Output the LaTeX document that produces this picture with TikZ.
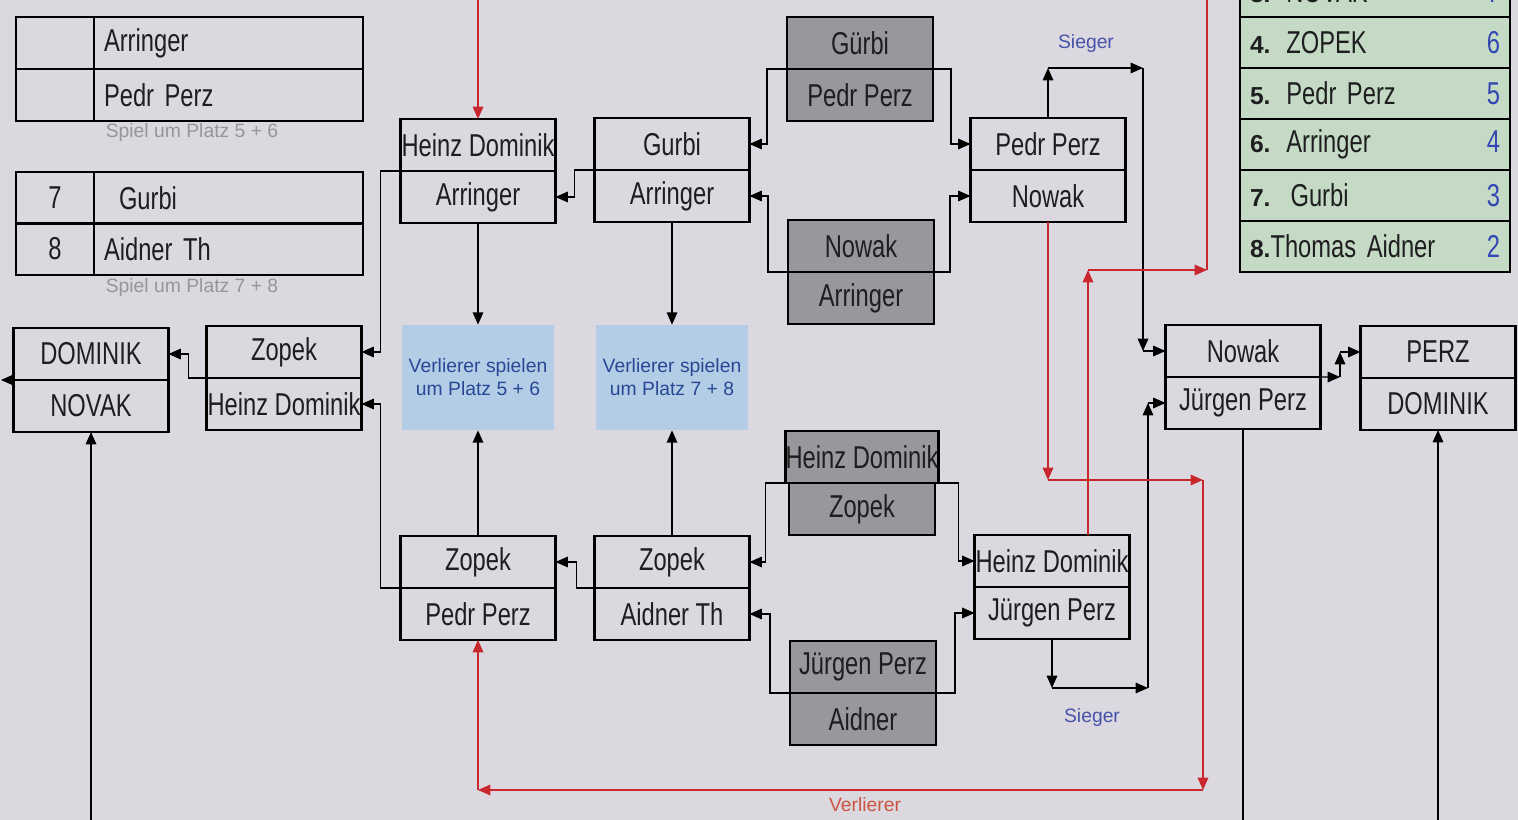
\documentclass[tikz,border=0pt]{standalone}
\usepackage{fontspec}
\setmainfont{Liberation Sans}
\newfontfamily\handfont[FakeStretch=0.75]{Liberation Sans}
\usetikzlibrary{arrows.meta}

\definecolor{paper}{RGB}{219,217,223}
\definecolor{boxgray}{RGB}{152,151,156}
\definecolor{loserfill}{RGB}{180,205,230}
\definecolor{losertext}{RGB}{40,72,150}
\definecolor{winblue}{RGB}{72,82,170}
\definecolor{rankgreen}{RGB}{197,218,197}
\definecolor{ptblue}{RGB}{50,70,180}
\definecolor{linered}{RGB}{200,40,45}
\definecolor{labelred}{RGB}{205,85,65}
\definecolor{labelgray}{RGB}{150,150,152}
\definecolor{ink}{RGB}{30,30,32}

\newcommand\ranknum[1]{{\normalfont\bfseries\fontsize{14}{16}\selectfont #1}}

\begin{document}
\begin{tikzpicture}[
  x=0.02cm, y=-0.02cm,
  cell/.style={draw, line width=1.6pt, minimum width=3.1cm, minimum height=1.04cm, inner sep=0pt, outer sep=0pt, text=ink, font=\handfont\fontsize{18}{20}\selectfont},
  shaded/.style={cell, fill=boxgray, minimum width=2.92cm},
  numcell/.style={cell, minimum width=1.56cm},
  namecell/.style={cell, minimum width=5.38cm, text width=4.98cm, inner xsep=0.2cm, align=left},
  rankrow/.style={draw, line width=1.4pt, fill=rankgreen, minimum height=1.02cm, text width=5.0cm, inner xsep=0.2cm, inner ysep=0pt, outer sep=0pt, align=left, text=ink, font=\handfont\fontsize{18}{20}\selectfont},
  loser/.style={fill=loserfill, minimum width=3.06cm, minimum height=2.1cm, align=center, text=losertext, font=\fontsize{11}{13}\selectfont},
  note/.style={font=\fontsize{11}{13}\selectfont},
  wire/.style={line width=0.8pt},
  arr/.style={wire, -{Triangle[length=7pt,width=6pt]}},
  redarr/.style={arr, draw=linered, fill=linered},
  redwire/.style={wire, draw=linered}
]
\path[use as bounding box, fill=paper] (0,0) rectangle (1518,820);
\clip (0,0) rectangle (1518,820);

% games for places 5-8
\node[numcell] (p5num) at (55,43) {};
\node[namecell] (p5name) at (228.5,43) {Arringer};
\node[numcell] (p6num) at (55,95) {};
\node[namecell] (p6name) at (228.5,95) {Pedr Perz};
\node[note, text=labelgray] (p56lbl) at (192,133) {Spiel um Platz 5 + 6};
\node[numcell] (p7num) at (55,198) {7};
\node[namecell] (p7name) at (228.5,198) {\hspace{0.3cm}Gurbi};
\node[numcell] (p8num) at (55,249) {8};
\node[namecell] (p8name) at (228.5,249) {Aidner Th};
\node[note, text=labelgray] (p78lbl) at (192,288) {Spiel um Platz 7 + 8};

% first round (shaded)
\node[shaded] (q1t) at (860,43) {Gürbi};
\node[shaded] (q1b) at (860,95) {Pedr Perz};
\node[shaded] (q2t) at (861,246) {Nowak};
\node[shaded] (q2b) at (861,298) {Arringer};
\node[shaded] (q3t) at (862,457) {Heinz Dominik};
\node[shaded] (q3b) at (862,509) {Zopek};
\node[shaded] (q4t) at (863,667) {Jürgen Perz};
\node[shaded] (q4b) at (863,719) {Aidner};

% semi finals
\node[cell] (s1t) at (1048,144) {Pedr Perz};
\node[cell] (s1b) at (1048,196) {Nowak};
\node[cell] (s2t) at (1052,561) {Heinz Dominik};
\node[cell] (s2b) at (1052,613) {Jürgen Perz};

% loser rounds
\node[cell] (c1t) at (672,144) {Gurbi};
\node[cell] (c1b) at (672,196) {Arringer};
\node[cell] (c2t) at (672,562) {Zopek};
\node[cell] (c2b) at (672,614) {Aidner Th};
\node[cell] (c3t) at (478,145) {Heinz Dominik};
\node[cell] (c3b) at (478,197) {Arringer};
\node[cell] (c4t) at (478,562) {Zopek};
\node[cell] (c4b) at (478,614) {Pedr Perz};
\node[cell] (c5t) at (284,352) {Zopek};
\node[cell] (c5b) at (284,404) {Heinz Dominik};
\node[cell] (c6t) at (91,354) {DOMINIK};
\node[cell] (c6b) at (91,406) {NOVAK};

\node[loser] (loser56) at (478,377.5) {Verlierer spielen\\um Platz 5 + 6};
\node[loser] (loser78) at (672,377.5) {Verlierer spielen\\um Platz 7 + 8};

% final
\node[cell] (f1t) at (1243,351) {Nowak};
\node[cell] (f1b) at (1243,403) {Jürgen Perz};
\node[cell] (f2t) at (1438,352) {PERZ};
\node[cell] (f2b) at (1438,404) {DOMINIK};

% ranking
\node[rankrow] (rank3) at (1375,-8.5) {\ranknum{3.} NOVAK\hfill{\color{ptblue}7}};
\node[rankrow] (rank4) at (1375,42.5) {\ranknum{4.} ZOPEK\hfill{\color{ptblue}6}};
\node[rankrow] (rank5) at (1375,93.5) {\ranknum{5.} Pedr Perz\hfill{\color{ptblue}5}};
\node[rankrow] (rank6) at (1375,144.5) {\ranknum{6.} Arringer\hfill{\color{ptblue}4}};
\node[rankrow] (rank7) at (1375,195.5) {\ranknum{7.}\hspace{0.4cm}Gurbi\hfill{\color{ptblue}3}};
\node[rankrow] (rank8) at (1375,246.5) {\ranknum{8.}Thomas Aidner\hfill{\color{ptblue}2}};

\node[note, text=winblue] (sieg1) at (1086,44) {Sieger};
\node[note, text=winblue] (sieg2) at (1092,718) {Sieger};
\node[note, text=labelred] (verl) at (865,805) {Verlierer};

\coordinate (w1) at (1048,68);
\coordinate (w1r) at (1143,68);
\coordinate (w1d) at (1143,351);
\coordinate (w2) at (1052,688);
\coordinate (w2r) at (1148,688);
\coordinate (w2u) at (1148,403);
\coordinate (v1) at (1048,480);
\coordinate (v1r) at (1203,480);
\coordinate (v1d) at (1203,790);
\coordinate (v1l) at (478,790);
\coordinate (v2) at (1088,270);
\coordinate (v2r) at (1207,270);
\coordinate (v2top) at (1207,0);
\coordinate (v3top) at (478,0);
\coordinate (fj) at (1340,377);
\coordinate (fj2) at (1340,352);
\coordinate (c6out) at (1,380);
\coordinate (bot1) at (91,820);
\coordinate (bot2) at (1243,820);
\coordinate (bot3) at (1438,820);

% winners move on
\draw[arr] (q1t.south west) -- ++(-20,0) |- (c1t.east);
\draw[arr] (q2t.south west) -- ++(-20,0) |- (c1b.east);
\draw[arr] (q1t.south east) -- ++(18,0) |- (s1t.west);
\draw[arr] (q2t.south east) -- ++(16,0) |- (s1b.west);
\draw[arr] (q3t.south west) -- ++(-20,0) |- (c2t.east);
\draw[arr] (q4t.south west) -- ++(-20,0) |- (c2b.east);
\draw[arr] (q3t.south east) -- ++(20,0) |- (s2t.west);
\draw[arr] (q4t.south east) -- ++(19,0) |- (s2b.west);
\draw[arr] (c1t.south west) -- ++(-20,0) |- (c3b.east);
\draw[arr] (c2t.south west) -- ++(-18,0) |- (c4t.east);
\draw[arr] (c3t.south west) -- ++(-20,0) |- (c5t.east);
\draw[arr] (c4t.south west) -- ++(-20,0) |- (c5b.east);
\draw[arr] (c5t.south west) -- ++(-18,0) |- (c6t.east);
\draw[arr] (c6t.south west) -- (c6out);
\draw[arr] (c3b.south) -- (loser56.north);
\draw[arr] (c4t.north) -- (loser56.south);
\draw[arr] (c1b.south) -- (loser78.north);
\draw[arr] (c2t.north) -- (loser78.south);

% Sieger
\draw[arr] (s1t.north) -- (w1);
\draw[arr] (w1) -- (w1r);
\draw[arr] (w1r) -- (w1d);
\draw[arr] (w1d) -- (f1t.west);
\draw[arr] (s2b.south) -- (w2);
\draw[arr] (w2) -- (w2r);
\draw[arr] (w2r) -- (w2u);
\draw[arr] (w2u) -- (f1b.west);

% Verlierer
\draw[redarr] (s1b.south) -- (v1);
\draw[redarr] (v1) -- (v1r);
\draw[redarr] (v1r) -- (v1d);
\draw[redarr] (v1d) -- (v1l);
\draw[redarr] (v1l) -- (c4b.south);
\draw[redarr] (v2 |- s2t.north) -- (v2);
\draw[redarr] (v2) -- (v2r);
\draw[redwire] (v2r) -- (v2top);
\draw[redarr] (v3top) -- (c3t.north);

% final
\draw[arr] (f1t.south east) -- (fj);
\draw[arr] (fj) -- (fj2);
\draw[arr] (fj2) -- (f2t.west);
\draw[wire] (f1b.south) -- (bot2);
\draw[arr] (bot3) -- (f2b.south);
\draw[arr] (bot1) -- (c6b.south);
\end{tikzpicture}
\end{document}
